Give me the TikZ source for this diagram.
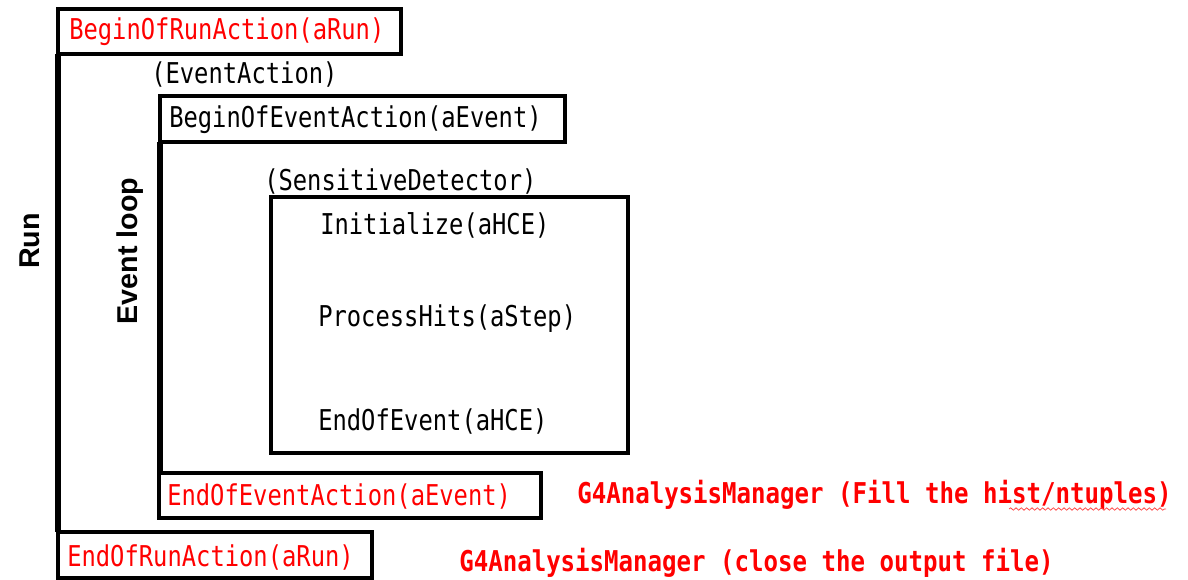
\documentclass[tikz,border=0pt]{standalone}
\usepackage{fontspec}
\usetikzlibrary{decorations.pathmorphing}
\newfontfamily\gmono[FakeStretch=0.83]{DejaVu Sans Mono}
\newfontfamily\gmonob[FakeStretch=0.84]{DejaVu Sans Mono Bold}
\newfontfamily\lblfont{Liberation Sans}
\definecolor{myred}{RGB}{255,0,0}
\tikzset{
  box/.style={draw=black, line width=3.6pt*0.75, inner sep=0pt, outer sep=0pt, anchor=north west},
  vline/.style={line width=5.5pt*0.75},
  txt/.style={font=\gmono\fontsize{21.5}{24}\selectfont, inner sep=0pt, anchor=west},
  redtxt/.style={txt, text=myred},
  boldred/.style={font=\gmonob\fontsize{21.5}{24}\selectfont, inner sep=0pt, anchor=west, text=myred},
  sidelbl/.style={font=\lblfont\bfseries\fontsize{21.5}{24}\selectfont, inner sep=0pt, rotate=90}
}
\begin{document}
\begin{tikzpicture}[x=0.75pt,y=-0.75pt]
\useasboundingbox (0,0) rectangle (1188,579);
% boxes
\node[box, minimum width=343*0.75pt, minimum height=45*0.75pt] (bor) at (58,9) {};
\node[box, minimum width=405*0.75pt, minimum height=46*0.75pt] (boe) at (160,96) {};
\node[box, minimum width=357*0.75pt, minimum height=256*0.75pt] (sd) at (271,197) {};
\node[box, minimum width=382*0.75pt, minimum height=45*0.75pt] (eoe) at (159,473) {};
\node[box, minimum width=314*0.75pt, minimum height=46*0.75pt] (eor) at (58,532) {};
% vertical connectors
\draw[vline] ([yshift=-22*0.75pt]bor.west) -- (bor.west |- eor.north);
\draw[vline] (boe.south west) -- (boe.south west |- eoe.north);
% texts
\node[redtxt] (tbor) at (69,32) {BeginOfRunAction(aRun)};
\node[txt] (tea) at (151,74) {(EventAction)};
\node[txt] (tboe) at (169,120) {BeginOfEventAction(aEvent)};
\node[txt] (tsd) at (264,181) {(SensitiveDetector)};
\node[txt] (tini) at (320,225) {Initialize(aHCE)};
\node[txt] (tph) at (318,319) {ProcessHits(aStep)};
\node[txt] (teev) at (318,421) {EndOfEvent(aHCE)};
\node[redtxt] (teoe) at (167,496) {EndOfEventAction(aEvent)};
\node[redtxt] (teor) at (67,557) {EndOfRunAction(aRun)};
\node[boldred] (am1) at (577,495) {G4AnalysisManager (Fill the hist/ntuples)};
\node[boldred] (am2) at (459,563) {G4AnalysisManager (close the output file)};
\coordinate (wv1) at (1009,509);
\coordinate (wv2) at (1166,509);
\draw[myred!70, line width=0.6pt, decorate, decoration={snake, amplitude=0.9pt, segment length=4pt}] (wv1) -- (wv2);
% side labels
\node[sidelbl] (run) at (30,241) {Run};
\node[sidelbl] (evl) at (130,251) {Event loop};
\end{tikzpicture}
\end{document}
